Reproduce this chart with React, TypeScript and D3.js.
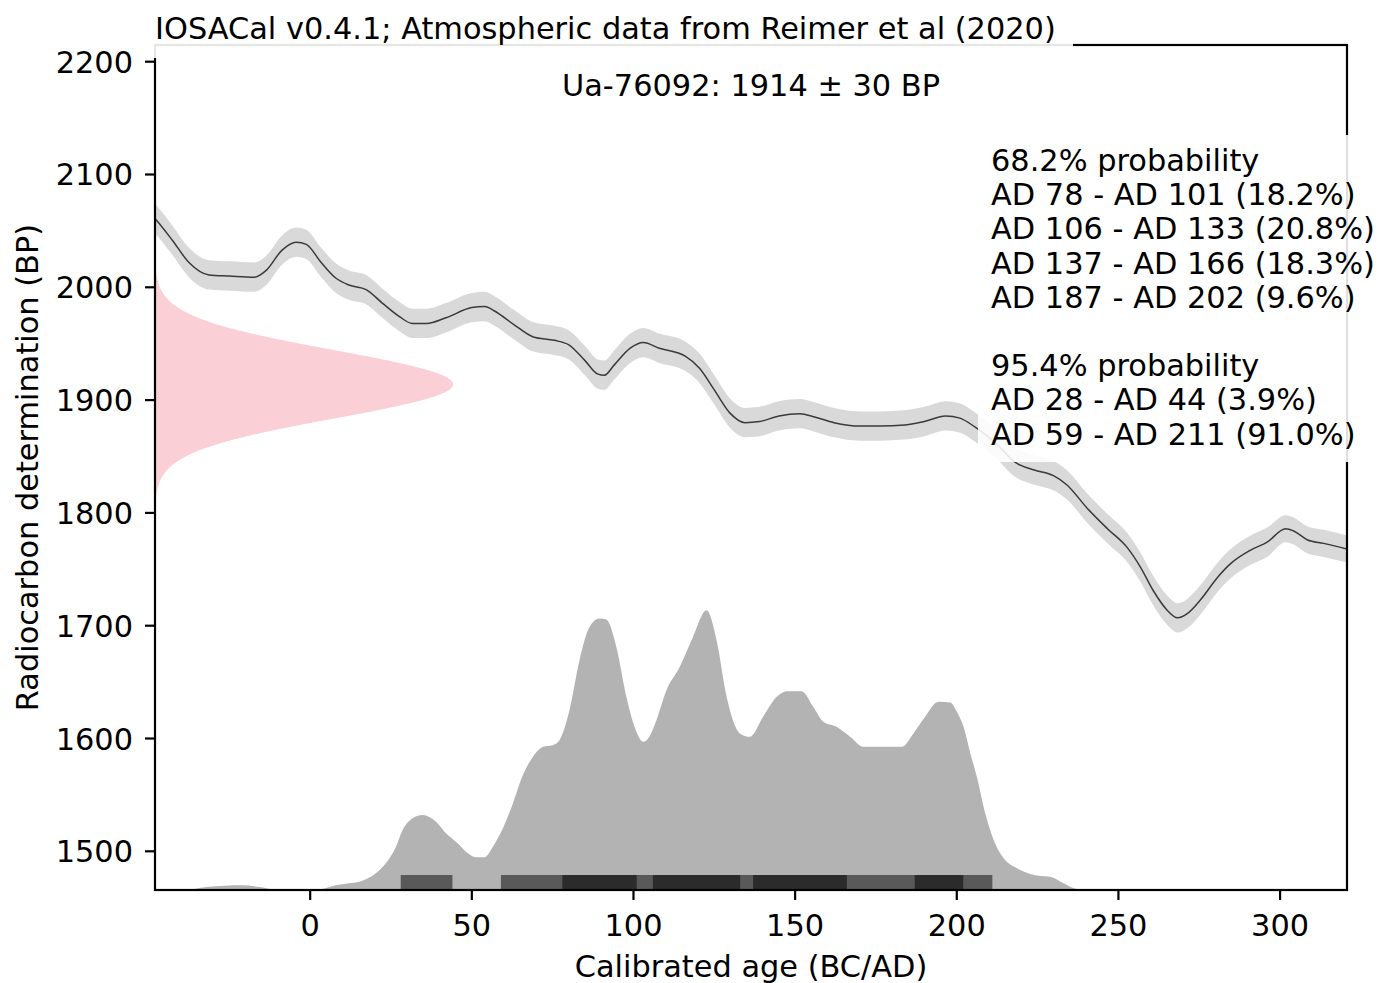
import React from "react";
import * as d3 from "d3";

// ---------- data ----------
const TITLE = "IOSACal v0.4.1; Atmospheric data from Reimer et al (2020)";
const SAMPLE_LABEL = "Ua-76092: 1914 ± 30 BP";
const C14_MEAN = 1914;
const C14_SIGMA = 30;

const X_TICKS = [0, 50, 100, 150, 200, 250, 300];
const Y_TICKS = [1500, 1600, 1700, 1800, 1900, 2000, 2100, 2200];
const X_DOMAIN = [-48, 320.7];
const Y_DOMAIN = [1465.7, 2214.8];

// calibration curve (IntCal20) – calendar year, BP, 1σ
const CURVE_YEAR = [-48, -47.4, -42.7, -37.5, -31.3, -25, -17.3, -13.6, -8.7, -4.3, -1.2, 3.4, 8, 12, 17.3, 22.3, 27.6, 31.6, 36, 42, 50, 54, 57, 63, 69, 75.5, 80, 85, 89, 91, 94, 99, 103, 108, 116, 120.5, 125, 130, 134.5, 139, 145, 151.5, 156, 162, 170, 176, 184, 190, 196.5, 201, 205.7, 212, 218, 224, 229.9, 234, 240.4, 246.6, 252.8, 256.8, 260.8, 265, 268.3, 271.4, 275.4, 280.7, 284.7, 290.9, 296, 301.7, 304.2, 308.5, 313.5, 320.7];
const CURVE_BP = [2061, 2059, 2042, 2022, 2011, 2010, 2009, 2015, 2033, 2040, 2038, 2022, 2008, 2002, 1998, 1986, 1974, 1968, 1968, 1973, 1982, 1983, 1979, 1967, 1956, 1953, 1949, 1935, 1923, 1922, 1931, 1946, 1951, 1946, 1939, 1928, 1909, 1888, 1880, 1881, 1886, 1888, 1885, 1880, 1877, 1877, 1878, 1881, 1886, 1884, 1876, 1862, 1845, 1838, 1833, 1825, 1804, 1786, 1769, 1752, 1731, 1714, 1707, 1711, 1723, 1743, 1755, 1767, 1774, 1786, 1784, 1776, 1773, 1768];
const CURVE_ERR = [13, 13, 13, 13, 13, 13, 13, 13, 13, 13, 13, 13, 13, 13, 13, 13, 13, 13, 13, 13, 13, 13, 13, 13, 13, 13, 13, 13, 13, 13, 13, 13, 13, 13, 13, 13, 13, 13, 13, 13, 13, 13, 13, 13, 13, 13, 13, 13, 13, 13, 13, 13, 13, 13, 13, 13, 13, 13, 13, 13, 13, 13, 13, 13, 13, 13, 13, 13, 13, 12, 12, 12, 12, 12];

// calibrated probability (relative)
const CAL_YEAR = [-48, -39, -32, -21, -15.6, -11.5, -0.4, 3.7, 7.8, 12, 15.2, 20.3, 23.4, 26.5, 28.6, 31.7, 34.8, 38.9, 42, 45.6, 48.2, 51.3, 53.9, 56.5, 59.6, 62.7, 65.8, 68.9, 72, 75, 77.1, 80.2, 83.3, 86.4, 89.5, 91.6, 94.7, 97.8, 100.9, 103, 105, 107.1, 110.2, 114.3, 118.4, 122.6, 125.7, 128.8, 132.9, 136, 140.1, 144.3, 147.4, 152, 155.6, 158.7, 162.8, 167, 171.1, 183, 186.6, 190.2, 194.3, 198, 200, 202.1, 204.2, 206.2, 208.8, 211.4, 214.5, 218.6, 222.7, 225.8, 228.9, 233, 236.2, 239.3, 320.7];
const CAL_PROB = [0, 0, 3, 4.7, 3, 0.7, 0.3, 1, 4.7, 6.7, 8.3, 16.7, 26.7, 43, 60, 71.7, 75, 68.3, 56.7, 46.7, 38.3, 32.7, 32.7, 43.3, 61.7, 86.7, 115, 133.3, 143.3, 145, 150, 180, 230, 263.3, 271.7, 270.7, 243.3, 193.3, 158.3, 148.3, 154, 170, 200, 223.3, 253.3, 280, 250, 193.3, 156.7, 153.3, 173.3, 193.3, 199, 199, 183.3, 168.3, 163.3, 153.3, 143.3, 143.3, 156.7, 173.3, 188.3, 187.7, 178.3, 163.3, 136.7, 113.3, 76.7, 50, 31.7, 21.7, 16, 14, 13.3, 6.7, 1.7, 0, 0];

// highest density ranges
const RANGES_95 = [[28, 44], [59, 211]];
const RANGES_68 = [[78, 101], [106, 133], [137, 166], [187, 202]];
const RANGE_TEXT = [
  "68.2% probability",
  "AD 78 - AD 101 (18.2%)",
  "AD 106 - AD 133 (20.8%)",
  "AD 137 - AD 166 (18.3%)",
  "AD 187 - AD 202 (9.6%)",
  "",
  "95.4% probability",
  "AD 28 - AD 44 (3.9%)",
  "AD 59 - AD 211 (91.0%)",
];

// ---------- layout ----------
const W = 1379;
const H = 983;
const L = 155, R = 1347, T = 45, B = 890;
const FONT = "'DejaVu Sans', sans-serif";
const FS = 30.4;

export default function App() {
  const x = d3.scaleLinear().domain(X_DOMAIN).range([L, R]);
  const y = d3.scaleLinear().domain(Y_DOMAIN).range([B, T]);

  const curvePts = CURVE_YEAR.map((yr, i) => ({ yr, bp: CURVE_BP[i], e: CURVE_ERR[i] }));
  const band = d3
    .area<any>()
    .x((d) => x(d.yr))
    .y0((d) => y(d.bp - d.e))
    .y1((d) => y(d.bp + d.e))
    .curve(d3.curveMonotoneX)(curvePts);
  const line = d3
    .line<any>()
    .x((d) => x(d.yr))
    .y((d) => y(d.bp))
    .curve(d3.curveMonotoneX)(curvePts);

  // radiocarbon determination normal distribution (pink)
  const gaussBP = d3.range(C14_MEAN - 4 * C14_SIGMA, C14_MEAN + 4 * C14_SIGMA + 0.5, 1);
  const gaussW = 92.2; // years at peak
  const gauss = d3
    .area<number>()
    .y((bp) => y(bp))
    .x0(() => x(X_DOMAIN[0]))
    .x1((bp) => x(X_DOMAIN[0] + gaussW * Math.exp(-0.5 * ((bp - C14_MEAN) / C14_SIGMA) ** 2)))(gaussBP);

  // calibrated distribution
  const maxP = d3.max(CAL_PROB) as number;
  const calH = 248; // BP units at max
  const calPts = CAL_YEAR.map((yr, i) => ({ yr, p: CAL_PROB[i] }));
  const calArea = d3
    .area<any>()
    .x((d) => x(d.yr))
    .y0(() => y(Y_DOMAIN[0]))
    .y1((d) => y(Y_DOMAIN[0] + (d.p / maxP) * calH))
    .curve(d3.curveMonotoneX)(calPts);

  const barH = 15;

  return (
    <svg
      width={W}
      height={H}
      style={{ position: "absolute", left: 0, top: 0, background: "#fff" }}
      fontFamily={FONT}
    >
      <defs>
        <clipPath id="plot">
          <rect x={L} y={T} width={R - L} height={B - T} />
        </clipPath>
      </defs>
      <rect x={0} y={0} width={W} height={H} fill="#fff" />
      <g clipPath="url(#plot)">
        <path d={band || ""} fill="#d9d9d9" />
        <path d={line || ""} fill="none" stroke="#3a3a3a" strokeWidth={1.5} />
        <path d={gauss || ""} fill="#facfd6" />
        <path d={calArea || ""} fill="#b3b3b3" />
        {RANGES_95.map(([a, b], i) => (
          <rect key={"r95" + i} x={x(a)} y={B - barH} width={x(b) - x(a)} height={barH} fill="#595959" />
        ))}
        {RANGES_68.map(([a, b], i) => (
          <rect key={"r68" + i} x={x(a)} y={B - barH} width={x(b) - x(a)} height={barH} fill="#2b2b2b" />
        ))}
      </g>

      {/* spines */}
      <rect x={L} y={T} width={R - L} height={B - T} fill="none" stroke="#000" strokeWidth={2.2} />

      {/* ticks */}
      {Y_TICKS.map((t) => (
        <g key={"yt" + t}>
          <line x1={L - 10} x2={L} y1={y(t)} y2={y(t)} stroke="#000" strokeWidth={2.2} />
          <text x={L - 22} y={y(t) + 11} textAnchor="end" fontSize={FS} fill="#000">
            {t}
          </text>
        </g>
      ))}
      {X_TICKS.map((t) => (
        <g key={"xt" + t}>
          <line x1={x(t)} x2={x(t)} y1={B} y2={B + 10} stroke="#000" strokeWidth={2.2} />
          <text x={x(t)} y={936} textAnchor="middle" fontSize={FS} fill="#000">
            {t}
          </text>
        </g>
      ))}

      {/* axis labels */}
      <text x={(L + R) / 2} y={977} textAnchor="middle" fontSize={FS} fill="#000">
        Calibrated age (BC/AD)
      </text>
      <text
        transform={`translate(38, ${(T + B) / 2}) rotate(-90)`}
        textAnchor="middle"
        fontSize={FS}
        fill="#000"
      >
        Radiocarbon determination (BP)
      </text>

      {/* sample label */}
      <text x={(L + R) / 2} y={96} textAnchor="middle" fontSize={FS} fill="#000">
        {SAMPLE_LABEL}
      </text>

      {/* range text box */}
      <rect x={978} y={135} width={W - 978} height={462 - 135} fill="#fff" fillOpacity={0.88} />
      {RANGE_TEXT.map((s, i) => (
        <text key={"rt" + i} x={991} y={171 + i * 34.2} fontSize={FS} fill="#000">
          {s}
        </text>
      ))}

      {/* title box */}
      <rect x={148} y={6} width={1073 - 148} height={58 - 6} fill="#fff" fillOpacity={0.9} />
      <text x={155} y={39} fontSize={FS} fill="#000">
        {TITLE}
      </text>
    </svg>
  );
}
